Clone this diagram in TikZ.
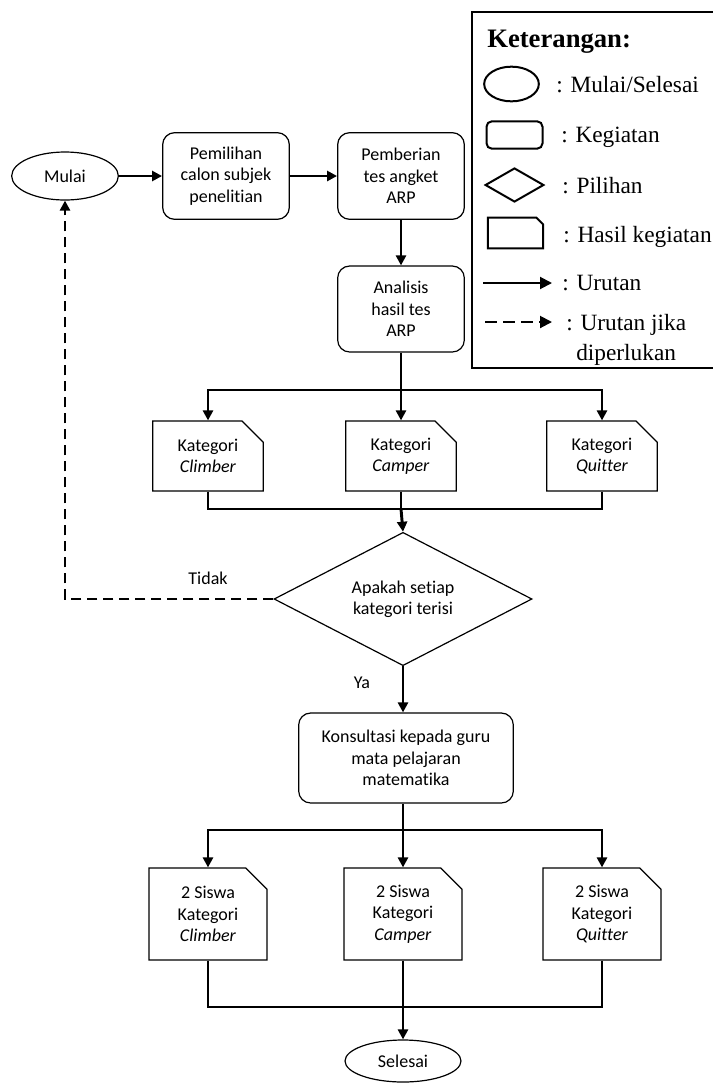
\documentclass[tikz,border=0pt]{standalone}
\usepackage{fontspec}
\setmainfont{Liberation Serif}
\newfontfamily\carlito[Ligatures=NoCommon]{Carlito}
\usetikzlibrary{shapes.geometric,shapes.misc,arrows.meta}

\newcommand\isiteks{\carlito\fontsize{13.5}{16}\selectfont}
\newcommand\ketteks{\fontsize{17.5}{21}\selectfont}

\tikzset{
	mulai/.style={ellipse,draw,line width=0.9pt,inner sep=0pt,font=\isiteks},
	kegiatan/.style={rectangle,rounded corners=9pt,draw,line width=0.9pt,inner sep=0pt,align=center,font=\isiteks},
	hasil/.style={chamfered rectangle,chamfered rectangle corners=north east,chamfered rectangle sep=8pt,draw,line width=0.9pt,inner sep=0pt,align=center,font=\isiteks},
	pilihan/.style={diamond,aspect=2,draw,line width=0.9pt,inner sep=0pt,align=center,font=\isiteks},
	garis/.style={line width=2.2pt},
	panah/.style={line width=2.2pt,-{Triangle[length=7.5pt,width=7.5pt]}},
	putus/.style={panah,dash pattern=on 7.5pt off 4.5pt},
	ket/.style={font=\ketteks,anchor=base west,inner sep=0pt},
}

\begin{document}
\begin{tikzpicture}[x=0.75pt,y=-0.75pt]
\useasboundingbox (0,0) rectangle (713,1086);

\node[mulai,minimum width=80pt,minimum height=36pt] (mulai) at (65,176) {Mulai};
\node[kegiatan,minimum width=95pt,minimum height=65pt] (pilih) at (226,176) {Pemilihan\\calon subjek\\penelitian};
\node[kegiatan,minimum width=95pt,minimum height=65pt] (beri) at (401,176) {Pemberian\\tes angket\\ARP};
\node[kegiatan,minimum width=95pt,minimum height=64.5pt] (analisis) at (401,309) {Analisis\\hasil tes\\ARP};

\foreach \i/\x/\t in {1/208/Climber,2/401/Camper,3/602/Quitter} {%
	\node[hasil,minimum width=83pt,minimum height=52.5pt] (kat\i) at (\x,456) {Kategori\\\textit{\t}};
}

\node[pilihan,minimum width=193.5pt,minimum height=100pt] (cek) at (403,599) {Apakah setiap\\kategori terisi};
\node[kegiatan,minimum width=161pt,minimum height=67.5pt] (konsul) at (406,758) {Konsultasi kepada guru\\mata pelajaran\\matematika};

\foreach \i/\x/\t in {1/208/Climber,2/403/Camper,3/602/Quitter} {%
	\node[hasil,minimum width=88.5pt,minimum height=69pt] (siswa\i) at (\x,914) {2 Siswa\\Kategori\\\textit{\t}};
}

\node[mulai,minimum width=87pt,minimum height=31.5pt] (selesai) at (403,1061) {Selesai};

\node[font=\isiteks] (tidak) at (208,578) {Tidak};
\node[font=\isiteks] (ya) at (362,683) {Ya};


\draw[panah] (mulai) -- (pilih);
\draw[panah] (pilih) -- (beri);
\draw[panah] (beri) -- (analisis);

\coordinate (cab1) at (401,390);
\coordinate (gab1) at (401,509);
\draw[garis] (analisis) -- (cab1);
\foreach \i in {1,2,3} {%
	\draw[panah] (cab1) -| (kat\i.north);
	\draw[garis] (kat\i.south) |- (gab1);
}
\draw[panah] (gab1) -- (cek.north);

\draw[putus] (cek.west) -| (mulai.south);
\draw[panah] (cek.south) -- (cek.south |- konsul.north);

\coordinate (cab2) at (403,830);
\coordinate (gab2) at (403,1007);
\draw[garis] (cek.south |- konsul.south) -- (cab2);
\foreach \i in {1,2,3} {%
	\draw[panah] (cab2) -| (siswa\i.north);
	\draw[garis] (siswa\i.south) |- (gab2);
}
\draw[panah] (gab2) -- (selesai);


% keterangan
\draw[line width=1.5pt] (472,12) rectangle (722,368);
\node[font=\fontsize{20}{24}\selectfont\bfseries,anchor=base west,inner sep=0pt] (judul) at (487,47) {Keterangan:};

\node[mulai,line width=1.5pt,minimum width=41pt,minimum height=26pt] (lg1) at (511.5,84) {};
\node[ket] (t1) at (556,92.5) {: Mulai/Selesai};
\node[kegiatan,rounded corners=4pt,line width=1.5pt,minimum width=42pt,minimum height=20.5pt] (lg2) at (514.5,135) {};
\node[ket] (t2) at (561,142.5) {: Kegiatan};
\node[pilihan,line width=1.5pt,minimum width=44pt,minimum height=25.5pt] (lg3) at (514.5,185) {};
\node[ket] (t3) at (562,193) {: Pilihan};
\node[inner sep=0pt,minimum width=41pt,minimum height=22.5pt] (lg4) at (515.5,233) {};
\draw[line width=1.5pt] (lg4.south west) -- (lg4.north west) -- ([xshift=-5pt]lg4.north east)
	-- ([yshift=-5pt]lg4.north east) -- (lg4.south east) -- cycle;
\node[ket] (t4) at (563,242) {: Hasil kegiatan};

\coordinate (u1) at (483,283);
\coordinate (u2) at (552,283);
\draw[line width=1.5pt,-{Triangle[length=9pt,width=9pt]}] (u1) -- (u2);
\node[ket] (t5) at (562,290.5) {: Urutan};
\coordinate (v1) at (485,322);
\coordinate (v2) at (552,322);
\draw[line width=1.5pt,dash pattern=on 9pt off 4.5pt,-{Triangle[length=9pt,width=9pt]}] (v1) -- (v2);
\node[ket] (t6) at (566,330) {: Urutan jika};
\node[ket] (t7) at (576,360) {diperlukan};

\end{tikzpicture}
\end{document}
